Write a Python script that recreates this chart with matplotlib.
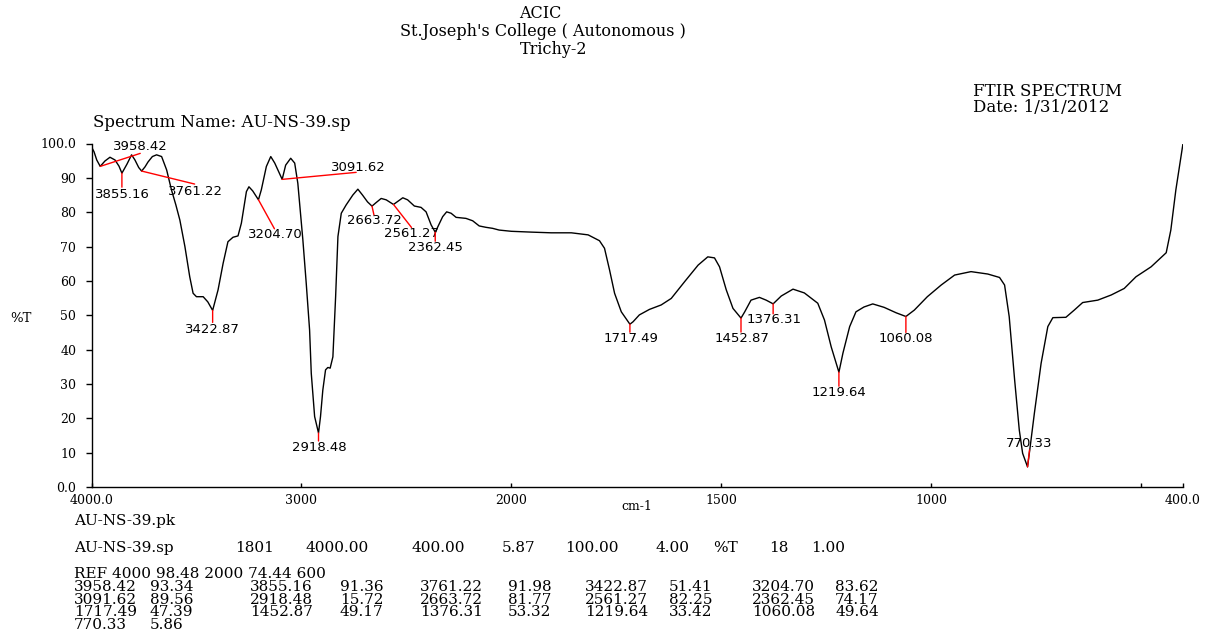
import numpy as np
import matplotlib
matplotlib.use('Agg')
import matplotlib.pyplot as plt

# spectrum trace (cm-1, %T)
WAVENUMBER = [
    4000, 3988, 3975, 3958.42, 3936, 3912, 3888, 3869, 3855.16, 3831, 3809, 3793, 3775,
    3761.22, 3745, 3731, 3710, 3690, 3666, 3642, 3619, 3598, 3579, 3555, 3532, 3516,
    3500, 3468, 3446, 3422.87, 3397, 3373, 3350, 3326, 3302, 3286, 3262, 3250, 3232,
    3204.70, 3191, 3167, 3146, 3127, 3091.62, 3075, 3051, 3032, 3017, 2993, 2977, 2961,
    2953, 2937, 2918.48, 2909, 2898, 2885, 2874, 2863, 2850, 2837, 2826, 2810, 2787,
    2755, 2731, 2709, 2685, 2663.72, 2644, 2620, 2596, 2561.27, 2540, 2517, 2494, 2462,
    2430, 2406, 2382, 2362.45, 2346, 2327, 2308, 2287, 2263, 2216, 2184, 2153, 2121,
    2089, 2058, 2000,
    1952, 1905, 1857, 1817, 1790, 1778, 1766, 1754, 1738, 1717.49, 1710, 1695, 1671,
    1643, 1619, 1587, 1555, 1532, 1516, 1504, 1488, 1472, 1452.87, 1444, 1429, 1409,
    1393, 1376.31, 1357, 1329, 1302, 1270, 1254, 1238, 1219.64, 1210, 1194, 1179, 1160,
    1139, 1112, 1083, 1060.08, 1040, 1009, 976, 944, 905, 865, 837, 825, 814, 801, 790,
    782, 770.33, 765, 754, 738, 722, 710, 679, 659, 639, 603, 571, 540, 512, 476, 440,
    429, 417, 400,
]
TRANSMITTANCE = [
    99.0, 97.6, 95.2, 93.34, 94.9, 96.0, 95.2, 93.4, 91.36, 94.0, 96.7, 95.2, 93.0,
    91.98, 93.2, 94.6, 96.2, 96.7, 96.2, 92.3, 86.5, 82.1, 77.7, 70.0, 61.2, 56.4,
    55.4, 55.4, 53.9, 51.41, 57.4, 65.1, 71.4, 72.7, 73.1, 76.8, 86.0, 87.4, 86.2,
    83.62, 86.5, 93.3, 96.2, 94.3, 89.56, 93.7, 95.7, 94.3, 88.4, 71.9, 59.3, 45.7,
    33.1, 20.5, 15.72, 20.5, 28.2, 34.1, 34.8, 34.6, 37.9, 55.4, 72.9, 79.7, 82.1,
    85.0, 86.7, 85.0, 83.0, 81.77, 82.8, 84.0, 83.6, 82.25, 83.2, 84.2, 83.6, 81.8,
    81.4, 80.1, 76.3, 74.17, 76.3, 78.7, 80.1, 79.7, 78.5, 78.2, 77.5, 76.0, 75.6,
    75.3, 74.8, 74.44,
    74.2, 74.0, 74.0, 73.4, 71.7, 69.5, 63.2, 56.4, 51.0, 47.39, 48.1, 50.1, 51.7,
    53.0, 54.9, 59.8, 64.6, 67.0, 66.7, 64.1, 57.4, 52.0, 49.17, 51.0, 54.4, 55.2,
    54.4, 53.32, 55.6, 57.6, 56.5, 53.5, 48.6, 40.8, 33.42, 39.0, 46.7, 51.0, 52.4,
    53.3, 52.3, 50.7, 49.64, 51.5, 55.4, 58.8, 61.7, 62.7, 62.0, 61.0, 58.8, 49.6, 31.1, 16.6,
    9.8, 5.86, 10.8, 21.5, 36.0, 46.7, 49.3, 49.4, 51.5, 53.7, 54.4, 55.9, 57.8, 61.2, 64.1, 68.2,
    74.8, 86.5, 100.0,
]

PEAK_WN = [3958.42, 3855.16, 3761.22, 3422.87, 3204.70, 3091.62, 2918.48, 2663.72,
           2561.27, 2362.45, 1717.49, 1452.87, 1376.31, 1219.64, 1060.08, 770.33]
PEAK_T = [93.34, 91.36, 91.98, 51.41, 83.62, 89.56, 15.72, 81.77,
          82.25, 74.17, 47.39, 49.17, 53.32, 33.42, 49.64, 5.86]

X_TICKS = [4000, 3000, 2000, 1500, 1000, 500, 400]
X_TICK_LABELS = ['4000.0', '3000', '2000', '1500', '1000', '', '400.0']
Y_TICKS = [0, 10, 20, 30, 40, 50, 60, 70, 80, 90, 100]
Y_TICK_LABELS = ['0.0', '10', '20', '30', '40', '50', '60', '70', '80', '90', '100.0']

SP_LINE = ['AU-NS-39.sp', '1801', '4000.00', '400.00', '5.87', '100.00', '4.00', '%T', '18', '1.00']
REF_LINE = 'REF 4000 98.48 2000 74.44 600'

# label placement in pixels relative to each peak: (line end), (text centre)
LINE_OFF = [(40, 13), (0, -14), (53, -13), (0, -12), (16, -29), (74, 7), (0, -8), (2, -9),
            (18, -23), (0, -9), (0, -8), (0, -14), (0, -10), (0, -14), (0, -16), (2, 17)]
TEXT_OFF = [(40, 20), (1, -21), (54, -20), (0, -19), (17, -35), (76, 12), (1, -14), (2, -14),
            (18, -29), (0, -15), (1, -14), (1, -20), (1, -16), (0, -20), (0, -22), (2, 23)]

W, H = 1209, 633
plt.rcParams['font.family'] = 'DejaVu Serif'


def fx(px):
    return px / W


def fy(py):
    return 1 - py / H


def fwd(x):
    x = np.asarray(x, dtype=float)
    return np.where(x >= 2000, x, 2 * x - 2000)


def inv(u):
    u = np.asarray(u, dtype=float)
    return np.where(u >= 2000, u, (u + 2000) / 2)


fig = plt.figure(figsize=(W / 100, H / 100), dpi=100)
ax = fig.add_axes([fx(91.5), fy(487), fx(1183 - 91.5), (487 - 143.5) / H])
ax.set_xscale('function', functions=(fwd, inv))
ax.plot(WAVENUMBER, TRANSMITTANCE, color='black', lw=1.0)
ax.set_xlim(4000, 400)
ax.set_ylim(0, 100)

for sp in ['top', 'right']:
    ax.spines[sp].set_visible(False)
for sp in ['left', 'bottom']:
    ax.spines[sp].set_linewidth(1.0)

ax.set_xticks(X_TICKS, X_TICK_LABELS)
ax.set_yticks(Y_TICKS, Y_TICK_LABELS)
ax.tick_params(axis='y', direction='out', length=4, width=1, pad=7, labelsize=9)
ax.tick_params(axis='x', direction='in', length=3, width=1, pad=5, labelsize=9)

k = 0.72  # px -> points at 100 dpi
for wn, t, lo, to in zip(PEAK_WN, PEAK_T, LINE_OFF, TEXT_OFF):
    ax.annotate('', xy=(wn, t), xytext=(lo[0] * k, lo[1] * k), textcoords='offset points',
                arrowprops=dict(arrowstyle='-', color='red', lw=1.0, shrinkA=0, shrinkB=0))
    ax.annotate(f'{wn:.2f}', xy=(wn, t), xytext=(to[0] * k, to[1] * k), textcoords='offset points',
                ha='center', va='center', fontsize=9.5, family='DejaVu Sans')

# header
fig.text(fx(540), fy(14), 'ACIC', ha='center', va='center', fontsize=11.5)
fig.text(fx(543), fy(32), "St.Joseph's College ( Autonomous )", ha='center', va='center', fontsize=11.5)
fig.text(fx(554), fy(50), 'Trichy-2', ha='center', va='center', fontsize=11.5)
fig.text(fx(973), fy(91), 'FTIR SPECTRUM', ha='left', va='center', fontsize=12)
fig.text(fx(973), fy(107), 'Date: 1/31/2012', ha='left', va='center', fontsize=12)
fig.text(fx(93), fy(122), 'Spectrum Name: AU-NS-39.sp', ha='left', va='center', fontsize=12)
fig.text(fx(10), fy(318), '%T', ha='left', va='center', fontsize=9.5)
fig.text(fx(637), fy(506), 'cm-1', ha='center', va='center', fontsize=9)

# peak report under the plot
fig.text(fx(74), fy(521), 'AU-NS-39.pk', ha='left', va='center', fontsize=11)
sp_x = [74, 235, 305, 411, 502, 565, 656, 713, 769, 811]
for s, px in zip(SP_LINE, sp_x):
    fig.text(fx(px), fy(548), s, ha='left', va='center', fontsize=11)
fig.text(fx(74), fy(574), REF_LINE, ha='left', va='center', fontsize=11)

num_x = [74, 250, 420, 585, 752]
val_x = [150, 340, 508, 669, 835]
row_y = [587, 600, 612, 625]
for i, (wn, t) in enumerate(zip(PEAK_WN, PEAK_T)):
    r, c = divmod(i, 5)
    fig.text(fx(num_x[c]), fy(row_y[r]), f'{wn:.2f}', ha='left', va='center', fontsize=11)
    fig.text(fx(val_x[c]), fy(row_y[r]), f'{t:.2f}', ha='left', va='center', fontsize=11)

fig.savefig('out.png', dpi=100)
